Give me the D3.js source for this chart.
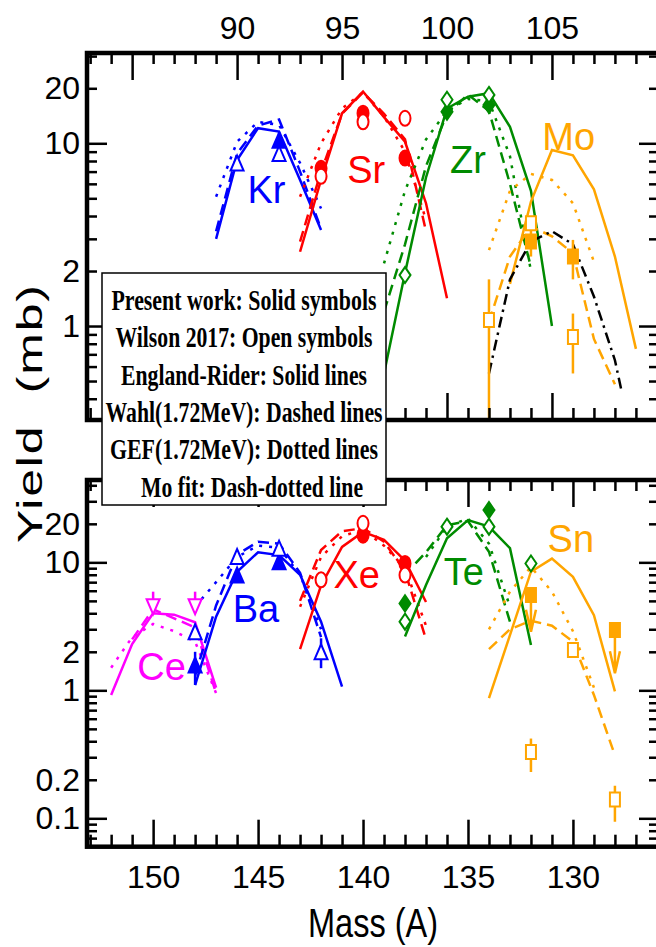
<!DOCTYPE html>
<html>
<head>
<meta charset="utf-8">
<script src="https://cdn.jsdelivr.net/npm/d3@7"></script>
<style>
body { margin: 0; background: #fff; }
svg { display: block; }
</style>
</head>
<body>
<svg width="656" height="947"></svg>
<script>
// ---- data: [mass, yield (mb)] ----
// top panel, light fragments
var krER   = [[89,3.0],[90,8.1],[91,12.1],[92,11.6],[93,6.3],[94,3.35]];
var krWahl = [[89,3.3],[90,8.8],[91,12.5],[92,13.5],[93,7.0],[94,3.4]];
var krGef  = [[89,5.1],[90,10.2],[91,13.1],[92,12.6],[93,7.8],[94,4.4]];
var krPresent = [{a:92, v:10.4, lo:9.4, hi:11.5}];
var krWilson  = [{a:90, v:7.8}, {a:92, v:8.8}];

var srER   = [[93,2.55],[94,6.3],[95,14.6],[96,19.2],[97,13.9],[98,10.2],[99,4.7],[100,1.42]];
var srWahl = [[93,2.9],[94,7.0],[95,14.5],[96,19.0],[97,14.5],[98,10.5],[99,3.3]];
var srGef  = [[93,5.1],[94,10],[95,15.5],[96,19],[97,14],[98,9],[99,3.8]];
var srPresent = [{a:94, v:7.3}, {a:96, v:14.6}, {a:98, v:8.3}];
var srWilson  = [{a:94, v:6.6}, {a:96, v:13.1}, {a:98, v:13.7}];

var zrER   = [[97,0.55],[98,1.95],[99,6.5],[100,15.5],[101,18],[102,18.8],[103,12.3],[104,5.5],[105,1.0]];
var zrWahl = [[97,1.2],[98,2.8],[99,7.5],[100,14.5],[101,18.5],[102,15],[103,6.0],[104,2.1]];
var zrGef  = [[97,2.2],[98,5.5],[99,10.5],[100,15],[101,17.5],[102,17],[103,8.5],[104,2.0]];
var zrPresent = [{a:100, v:14.9}, {a:102, v:16.2}];
var zrWilson  = [{a:98, v:1.9}, {a:100, v:17.3}, {a:102, v:18.4}];

var moER   = [[103,1.7],[104,4.8],[105,9.2],[106,8.6],[107,5.6],[108,2.4],[109,0.75]];
var moWahl = [[102,1.05],[103,2.4],[104,3.5],[105,3.1],[106,2.5],[107,0.85],[108,0.48]];
var moGef  = [[102,2.6],[103,5.5],[104,6.8],[105,6.3],[106,4.7],[107,2.25]];
var moFit  = [[102,0.55],[103,1.8],[104,2.9],[105,3.3],[106,2.8],[107,1.45],[108,0.65],[108.3,0.45]];
var moPresent = [{a:104, v:2.9, lo:2.4, hi:3.5}, {a:106, v:2.4, lo:1.8, hi:2.96}];
var moWilson  = [{a:102, v:1.08, lo:0.2, hi:1.8}, {a:104, v:3.65, lo:3.35, hi:3.95}, {a:106, v:0.87, lo:0.55, hi:1.17}];

// bottom panel, heavy fragments
var ceER   = [[152,0.92],[151,2.3],[150,4.0],[149,3.9],[148,3.4],[147,1.05]];
var ceWahl = [[151,2.5],[150,4.3],[149,3.65],[148,3.1],[147,0.95]];
var ceGef  = [[152,1.5],[151,2.6],[150,3.3],[149,2.9],[148,2.4],[147,0.95]];
var ceWilson = [{a:150, v:4.5, lo:4.5, hi:5.9}, {a:148, v:4.5, lo:4.5, hi:5.9}];

var baER   = [[148,1.1],[147,3.76],[146,8.45],[145,12],[144,11.4],[143,8.0],[142,3.44],[141,1.07]];
var baWahl = [[148,1.3],[147,4.6],[146,11.5],[145,14.5],[144,14.0],[143,8.3],[142,2.6]];
var baGef  = [[148,4.5],[147,7.0],[146,11],[145,13.5],[144,13],[143,8],[142,3.0]];
var baPresent = [{a:148, v:1.58, lo:1.1, hi:2.0}, {a:146, v:7.95}, {a:144, v:10.1}];
var baWilson  = [{a:148, v:2.87}, {a:146, v:11.1}, {a:144, v:12.9}, {a:142, v:2.0, lo:1.49, hi:2.55}];

var xeER   = [[143,2.1],[142,6.6],[141,13.2],[140,17.3],[139,15],[138,10.3],[137,4.9]];
var xeWahl = [[143,5.0],[142,12.5],[141,17.5],[140,18.5],[139,14.5],[138,8.5],[137,2.5]];
var xeGef  = [[143,4.5],[142,11],[141,16],[140,18],[139,13.5],[138,9],[137,3.2]];
var xePresent = [{a:140, v:16.3}, {a:138, v:9.8}];
var xeWilson  = [{a:142, v:7.3}, {a:140, v:20.2}, {a:138, v:7.95}];

var teER   = [[138,2.63],[137,6.65],[136,15.4],[135,21.4],[134,19],[133,12.9],[132,2.26]];
var teWahl = [[137.5,9.8],[137,12],[136,19.5],[135,21],[134,12.1],[133,3.44]];
var teGef  = [[137,11],[136,19],[135,22],[134,14],[133,4.5]];
var tePresent = [{a:138, v:4.78}, {a:134, v:25.6}];
var teWilson  = [{a:138, v:3.44}, {a:136, v:19}, {a:134, v:19}, {a:132, v:9.8}];

var snER   = [[134,0.87],[133,2.7],[132,8.45],[131,10.7],[130,7.7],[129,3.87],[128,0.98]];
var snWahl = [[134,2.1],[133,3.0],[132,3.5],[131,3.2],[130,2.4],[129,0.92],[128,0.31]];
var snGef  = [[134,3.0],[133,5.9],[132,9.2],[131,5.9],[130,2.9],[129,1.05]];
var snPresent = [{a:132, v:5.55, arrow:2.87}, {a:128, v:2.96, arrow:1.36}];
var snWilson  = [{a:130, v:2.07}, {a:132, v:0.33, lo:0.23, hi:0.42}, {a:128, v:0.14, lo:0.094, hi:0.18}];

var legendLines = ["Present work: Solid symbols", "Wilson 2017: Open symbols", "England-Rider: Solid lines",
                   "Wahl(1.72MeV): Dashed lines", "GEF(1.72MeV): Dotted lines", "Mo fit: Dash-dotted line"];
var topXLabels = [90, 95, 100, 105];
var botXLabels = [150, 145, 140, 135, 130];
var topYLabels = [1, 2, 10, 20];
var botYLabels = [0.1, 0.2, 1, 2, 10, 20];

// ---- layout ----
var left = 87, right = 659;
var narrow = "'Liberation Sans Narrow', 'Arial Narrow', 'Liberation Sans', sans-serif";
var blue = "#0000ff", red = "#ff0000", green = "#008b00", orange = "#ffa500", magenta = "#ff00ff";
var dash = {solid: null, dashed: "11,6", dotted: "3,7", dashdot: "11,5,2.5,5"};

var svg = d3.select("svg");

var xTop = d3.scaleLinear().domain([82.85, 110.1]).range([left, right]);
var xBot = d3.scaleLinear().domain([153.15, 125.9]).range([left, right]);
var yTop = d3.scaleLog().domain([0.306, 31.2]).range([420, 53]);
var yBot = d3.scaleLog().domain([0.06, 44]).range([846.7, 480]);

var topPanel = {
  name: "top", x: xTop, y: yTop, y0: 53, y1: 420,
  curves: [
    {data: krER, color: blue, style: "solid"}, {data: krWahl, color: blue, style: "dashed"}, {data: krGef, color: blue, style: "dotted"},
    {data: srER, color: red, style: "solid"}, {data: srWahl, color: red, style: "dashed"}, {data: srGef, color: red, style: "dotted"},
    {data: zrER, color: green, style: "solid"}, {data: zrWahl, color: green, style: "dashed"}, {data: zrGef, color: green, style: "dotted"},
    {data: moER, color: orange, style: "solid"}, {data: moWahl, color: orange, style: "dashed"}, {data: moGef, color: orange, style: "dotted"},
    {data: moFit, color: "#000", style: "dashdot"}
  ],
  points: [
    {data: krPresent, color: blue, shape: "up", filled: true}, {data: krWilson, color: blue, shape: "up", filled: false},
    {data: srPresent, color: red, shape: "circle", filled: true}, {data: srWilson, color: red, shape: "circle", filled: false},
    {data: zrPresent, color: green, shape: "diamond", filled: true}, {data: zrWilson, color: green, shape: "diamond", filled: false},
    {data: moPresent, color: orange, shape: "square", filled: true}, {data: moWilson, color: orange, shape: "square", filled: false}
  ],
  labels: [
    {t: "Kr", a: 91.4, v: 5.6, color: blue}, {t: "Sr", a: 96.15, v: 7.2, color: red},
    {t: "Zr", a: 101, v: 8.2, color: green}, {t: "Mo", a: 105.8, v: 10.9, color: orange}
  ]
};

var botPanel = {
  name: "bot", x: xBot, y: yBot, y0: 480, y1: 846.7,
  curves: [
    {data: ceER, color: magenta, style: "solid"}, {data: ceWahl, color: magenta, style: "dashed"}, {data: ceGef, color: magenta, style: "dotted"},
    {data: baER, color: blue, style: "solid"}, {data: baWahl, color: blue, style: "dashed"}, {data: baGef, color: blue, style: "dotted"},
    {data: xeER, color: red, style: "solid"}, {data: xeWahl, color: red, style: "dashed"}, {data: xeGef, color: red, style: "dotted"},
    {data: teER, color: green, style: "solid"}, {data: teWahl, color: green, style: "dashed"}, {data: teGef, color: green, style: "dotted"},
    {data: snER, color: orange, style: "solid"}, {data: snWahl, color: orange, style: "dashed"}, {data: snGef, color: orange, style: "dotted"}
  ],
  points: [
    {data: ceWilson, color: magenta, shape: "down", filled: false},
    {data: baPresent, color: blue, shape: "up", filled: true}, {data: baWilson, color: blue, shape: "up", filled: false},
    {data: xePresent, color: red, shape: "circle", filled: true}, {data: xeWilson, color: red, shape: "circle", filled: false},
    {data: tePresent, color: green, shape: "diamond", filled: true}, {data: teWilson, color: green, shape: "diamond", filled: false},
    {data: snPresent, color: orange, shape: "square", filled: true}, {data: snWilson, color: orange, shape: "square", filled: false}
  ],
  labels: [
    {t: "Ce", a: 149.6, v: 1.55, color: magenta}, {t: "Ba", a: 145.1, v: 4.4, color: blue},
    {t: "Xe", a: 140.3, v: 8.0, color: red}, {t: "Te", a: 135.2, v: 8.5, color: green}, {t: "Sn", a: 130.1, v: 15.5, color: orange}
  ]
};

function markerPath(shape, cx, cy) {
  var hw, hh;
  if (shape === "up") { hw = 6.5; hh = 7.5;
    return "M" + (cx - hw) + "," + (cy + hh) + "L" + cx + "," + (cy - hh) + "L" + (cx + hw) + "," + (cy + hh) + "Z"; }
  if (shape === "down") { hw = 6.5; hh = 7.5;
    return "M" + (cx - hw) + "," + (cy - hh) + "L" + cx + "," + (cy + hh) + "L" + (cx + hw) + "," + (cy - hh) + "Z"; }
  if (shape === "diamond") { hw = 5.5; hh = 8;
    return "M" + cx + "," + (cy - hh) + "L" + (cx + hw) + "," + cy + "L" + cx + "," + (cy + hh) + "L" + (cx - hw) + "," + cy + "Z"; }
  if (shape === "square") { hw = 5; hh = 7;
    return "M" + (cx - hw) + "," + (cy - hh) + "H" + (cx + hw) + "V" + (cy + hh) + "H" + (cx - hw) + "Z"; }
  // circle drawn as a slightly tall ellipse
  var rx = 5.5, ry = 7.5;
  return "M" + (cx - rx) + "," + cy + "A" + rx + "," + ry + " 0 1,0 " + (cx + rx) + "," + cy +
         "A" + rx + "," + ry + " 0 1,0 " + (cx - rx) + "," + cy + "Z";
}

function drawPanel(p) {
  svg.append("clipPath").attr("id", "clip-" + p.name).append("rect")
    .attr("x", left).attr("y", p.y0).attr("width", right - left).attr("height", p.y1 - p.y0);
  var plot = svg.append("g").attr("clip-path", "url(#clip-" + p.name + ")");

  var line = d3.line().x(function(d) { return p.x(d[0]); }).y(function(d) { return p.y(d[1]); });
  p.curves.forEach(function(c) {
    plot.append("path").datum(c.data)
      .attr("d", line)
      .attr("fill", "none")
      .attr("stroke", c.color)
      .attr("stroke-width", 2.5)
      .attr("stroke-dasharray", dash[c.style]);
  });

  p.labels.forEach(function(l) {
    plot.append("text")
      .attr("x", p.x(l.a)).attr("y", p.y(l.v))
      .attr("text-anchor", "middle")
      .attr("dy", "0.36em")
      .style("font-family", narrow).style("font-size", "38px")
      .attr("fill", l.color)
      .text(l.t);
  });

  // solid symbols first, open symbols on top
  var order = p.points.filter(function(s) { return s.filled; }).concat(p.points.filter(function(s) { return !s.filled; }));
  order.forEach(function(s) {
    s.data.forEach(function(d) {
      var cx = p.x(d.a), cy = p.y(d.v);
      if (d.lo !== undefined) {
        plot.append("line")
          .attr("x1", cx).attr("x2", cx).attr("y1", p.y(d.lo)).attr("y2", p.y(d.hi))
          .attr("stroke", s.color).attr("stroke-width", 2.5);
      }
      if (d.arrow !== undefined) {
        var tip = p.y(d.arrow);
        plot.append("path")
          .attr("d", "M" + cx + "," + cy + "V" + tip + "M" + (cx - 5) + "," + (tip - 22) + "L" + cx + "," + tip + "L" + (cx + 5) + "," + (tip - 22))
          .attr("fill", "none").attr("stroke", s.color).attr("stroke-width", 2.5);
      }
      plot.append("path")
        .attr("d", markerPath(s.shape, cx, cy))
        .attr("fill", s.filled ? s.color : "#fff")
        .attr("stroke", s.color)
        .attr("stroke-width", 2);
    });
  });
}

function styleAxis(g) {
  g.select(".domain").remove();
  g.selectAll(".tick line").attr("stroke", "#000").attr("stroke-width", 2.5);
  g.selectAll(".tick text").attr("fill", "#000").style("font-family", narrow).style("font-size", "32px");
}

function drawAxes(p, xMajor, xMinor, xLabels, labelsOnTop, yMajor, yMinor, yLabels) {
  var fmtX = function(d) { return xLabels.indexOf(d) >= 0 ? d : ""; };
  var fmtY = function(d) { return yLabels.indexOf(d) >= 0 ? d : ""; };

  // x ticks on both edges, pointing inward
  svg.append("g").attr("transform", "translate(0," + p.y0 + ")")
    .call(d3.axisTop(p.x).tickValues(xMajor).tickSize(-27).tickPadding(14).tickFormat(labelsOnTop ? fmtX : ""))
    .call(styleAxis);
  svg.append("g").attr("transform", "translate(0," + p.y0 + ")")
    .call(d3.axisTop(p.x).tickValues(xMinor).tickSize(-11).tickFormat(""))
    .call(styleAxis);
  svg.append("g").attr("transform", "translate(0," + p.y1 + ")")
    .call(d3.axisBottom(p.x).tickValues(xMajor).tickSize(-27).tickPadding(19).tickFormat(labelsOnTop ? "" : fmtX))
    .call(styleAxis);
  svg.append("g").attr("transform", "translate(0," + p.y1 + ")")
    .call(d3.axisBottom(p.x).tickValues(xMinor).tickSize(-12).tickFormat(""))
    .call(styleAxis);

  // y ticks, log scale
  svg.append("g").attr("transform", "translate(" + left + ",0)")
    .call(d3.axisLeft(p.y).tickValues(yMajor.concat(yMinor)).tickSize(0).tickPadding(7).tickFormat(fmtY))
    .call(styleAxis);
  [left, right].forEach(function(xp, i) {
    var ax = i === 0 ? d3.axisLeft : d3.axisRight;
    svg.append("g").attr("transform", "translate(" + xp + ",0)")
      .call(ax(p.y).tickValues(yMajor).tickSize(-20).tickFormat(""))
      .call(styleAxis);
    svg.append("g").attr("transform", "translate(" + xp + ",0)")
      .call(ax(p.y).tickValues(yMinor).tickSize(-10).tickFormat(""))
      .call(styleAxis);
  });

  svg.append("rect")
    .attr("x", left).attr("y", p.y0).attr("width", right - left).attr("height", p.y1 - p.y0)
    .attr("fill", "none").attr("stroke", "#000").attr("stroke-width", 4.5);
}

drawPanel(topPanel);
drawPanel(botPanel);

drawAxes(topPanel, [85, 90, 95, 100, 105, 110],
  d3.range(83, 111).filter(function(a) { return a % 5 !== 0; }), topXLabels, true,
  [1, 10], [0.4, 0.5, 0.6, 0.7, 0.8, 0.9, 2, 3, 4, 5, 6, 7, 8, 9, 20, 30], topYLabels);

drawAxes(botPanel, [150, 145, 140, 135, 130],
  d3.range(126, 154).filter(function(a) { return a % 5 !== 0; }), botXLabels, false,
  [0.1, 1, 10], [0.07, 0.08, 0.09, 0.2, 0.3, 0.4, 0.5, 0.6, 0.7, 0.8, 0.9, 2, 3, 4, 5, 6, 7, 8, 9, 20, 30, 40], botYLabels);

// legend box
var legend = svg.append("g");
legend.append("rect")
  .attr("x", 102).attr("y", 273).attr("width", 284).attr("height", 232)
  .attr("fill", "#fff").attr("stroke", "#000").attr("stroke-width", 1.5);
var legendWidths = [265, 257, 246, 277, 268, 222];
legend.selectAll("text").data(legendLines).enter().append("text")
  .attr("x", function(d, i) { return i === 5 ? 252 : 244; })
  .attr("y", function(d, i) { return 310 + i * 37.3; })
  .attr("text-anchor", "middle")
  .attr("textLength", function(d, i) { return legendWidths[i]; })
  .attr("lengthAdjust", "spacingAndGlyphs")
  .style("font-family", "'Liberation Serif', 'Times New Roman', serif")
  .style("font-weight", "bold")
  .style("font-size", "29px")
  .text(function(d) { return d; });

// axis titles (glyphs squeezed across, like the rest of the figure)
svg.append("text")
  .attr("transform", "translate(42,414) scale(0.72,1) rotate(-90)")
  .attr("text-anchor", "middle")
  .attr("textLength", 258).attr("lengthAdjust", "spacing")
  .style("font-family", "'Liberation Sans', Arial, sans-serif")
  .style("font-size", "50px")
  .style("white-space", "pre")
  .text("Yield  (mb)");

svg.append("text")
  .attr("x", 373).attr("y", 937)
  .attr("text-anchor", "middle")
  .attr("textLength", 130).attr("lengthAdjust", "spacingAndGlyphs")
  .style("font-family", narrow)
  .style("font-size", "40px")
  .text("Mass (A)");
</script>
</body>
</html>
